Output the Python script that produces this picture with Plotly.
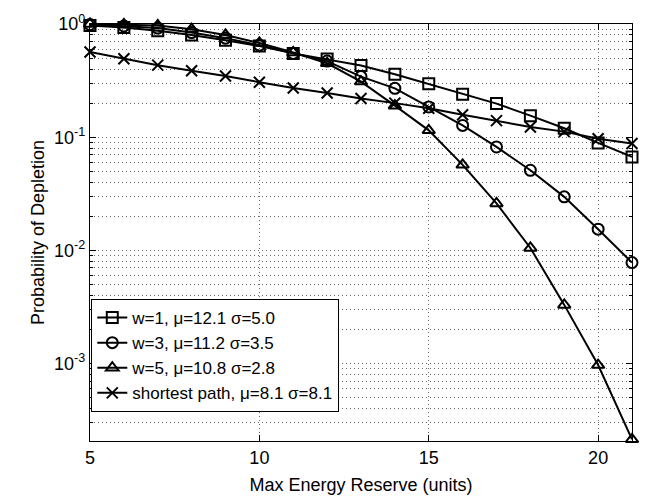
import plotly.graph_objects as go
import numpy as np

x_vals = list(range(5, 22))

w1_vals = [0.97, 0.93, 0.87, 0.80, 0.72, 0.64, 0.55, 0.49, 0.43, 0.36, 0.296, 0.24, 0.198, 0.155, 0.12, 0.089, 0.067]
w3_vals = [0.99, 0.96, 0.92, 0.84, 0.75, 0.65, 0.55, 0.47, 0.343, 0.27, 0.185, 0.127, 0.082, 0.051, 0.0297, 0.0154, 0.0078]
w5_vals = [1.0, 0.99, 0.97, 0.90, 0.80, 0.68, 0.56, 0.45, 0.31, 0.19, 0.115, 0.057, 0.026, 0.0105, 0.0033, 0.00097, 0.000214]
sp_vals = [0.565, 0.494, 0.433, 0.386, 0.347, 0.306, 0.272, 0.246, 0.22, 0.20, 0.18, 0.158, 0.14, 0.123, 0.112, 0.097, 0.088]

series_names = ["w=1, \u03bc=12.1 \u03c3=5.0", "w=3, \u03bc=11.2 \u03c3=3.5",
                "w=5, \u03bc=10.8 \u03c3=2.8", "shortest path, \u03bc=8.1 \u03c3=8.1"]
series_symbols = ["square-open", "circle-open", "triangle-up-open", "x-thin-open"]

x_ticks = [5, 10, 15, 20]
y_tickvals = [1e-3, 1e-2, 1e-1, 1]
y_ticktext = ["10<sup>-3</sup>", "10<sup>-2</sup>", "10<sup>-1</sup>", "10<sup>0</sup>"]
y_minor_vals = [m * 10.0 ** e for e in (-4, -3, -2, -1) for m in range(2, 10)]

FONT = "Liberation Sans, Arial, Helvetica, sans-serif"
GRID = "#6a6a6a"
DOTS = "1px,3px"

fig = go.Figure()
for vals, name, sym in zip([w1_vals, w3_vals, w5_vals, sp_vals], series_names, series_symbols):
    fig.add_trace(go.Scatter(
        x=x_vals, y=vals, name=name, mode="lines+markers",
        line=dict(color="black", width=2),
        marker=dict(symbol=sym, size=11, color="black",
                    line=dict(color="black", width=2)),
        cliponaxis=False,
    ))

axis_common = dict(
    showline=True, linecolor="black", linewidth=1.2, mirror="allticks",
    ticks="inside", ticklen=6, tickcolor="black",
    showgrid=True, gridcolor=GRID, griddash=DOTS, gridwidth=1,
    zeroline=False, tickfont=dict(family=FONT, size=18, color="black"),
)

fig.update_layout(
    width=646, height=503,
    margin=dict(l=90, r=14, t=18, b=59),
    paper_bgcolor="white", plot_bgcolor="white",
    font=dict(family=FONT, size=18, color="black"),
    xaxis=dict(range=[5, 21], tickvals=x_ticks,
               title=dict(text="Max Energy Reserve (units)", font=dict(size=18), standoff=11),
               **axis_common),
    yaxis=dict(type="log", range=[np.log10(2.07e-4), 0],
               tickvals=y_tickvals, ticktext=y_ticktext,
               title=dict(text="Probability of Depletion", font=dict(size=18), standoff=4),
               minor=dict(tickmode="array", tickvals=y_minor_vals,
                          ticks="inside", ticklen=3, tickcolor="black", showgrid=True,
                          gridcolor=GRID, griddash=DOTS, gridwidth=1),
               **axis_common),
    legend=dict(x=0.002, y=0.341, xanchor="left", yanchor="top",
                bgcolor="white", bordercolor="black", borderwidth=1.2,
                font=dict(family=FONT, size=17, color="black"),
                itemwidth=30),
    showlegend=True,
)

fig.write_html("out.html")
